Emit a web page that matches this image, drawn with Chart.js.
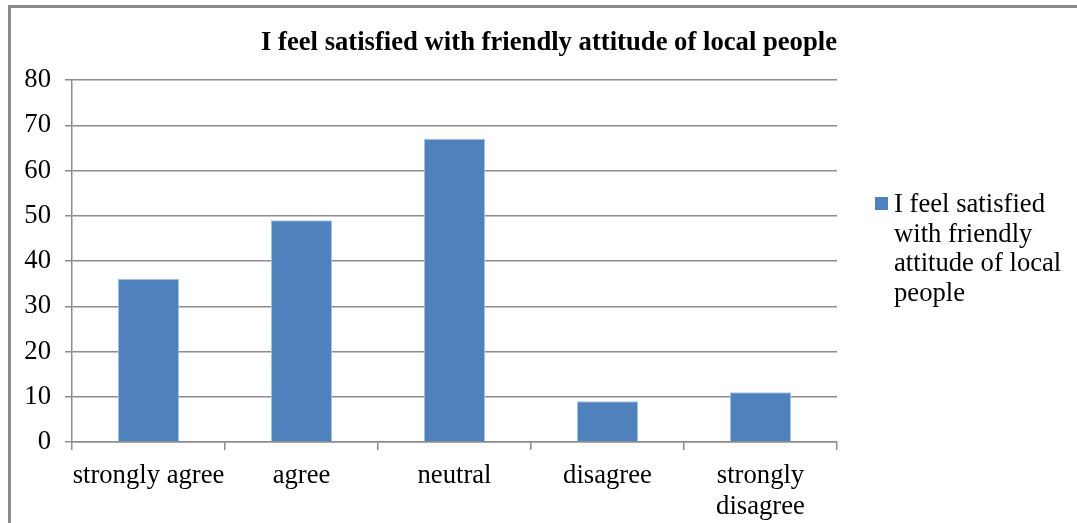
<!DOCTYPE html>
<html>
<head>
<meta charset="utf-8">
<script src="https://cdn.jsdelivr.net/npm/chart.js@4/dist/chart.umd.min.js"></script>
<style>
  html, body { margin: 0; padding: 0; background: #fff; overflow: hidden; width: 1077px; height: 523px; }
  .frame {
    position: absolute; left: 8px; top: 5px;
    width: 1069px; height: 515px;
    border-left: 3px solid #8a8a8a; border-top: 3px solid #8a8a8a;
    background: #fff;
  }
</style>
</head>
<body>
<div class="frame"><canvas id="chart"></canvas></div>
<script>
// Survey responses per answer option
const categories = ['strongly agree', 'agree', 'neutral', 'disagree', ['strongly', 'disagree']];
const responses = [36, 49, 67, 9, 11];
const seriesLabel = 'I feel satisfied with friendly attitude of local people';
const legendLines = ['I feel satisfied', 'with friendly', 'attitude of local', 'people'];
const chartTitle = 'I feel satisfied with friendly attitude of local people';
const yTicks = [0, 10, 20, 30, 40, 50, 60, 70, 80];

const serif = "'Liberation Serif', 'Times New Roman', serif";
const textSize = 26.67;
const gridGray = '#8c8c8c';
const barBlue = '#4f81bd';

// Legend on the right with wrapped text lines
const wrappedLegend = {
  id: 'wrappedLegend',
  afterDraw(chart) {
    const ctx = chart.ctx;
    const area = chart.chartArea;
    const x0 = area.right + 38;
    const y0 = area.top + 117;
    ctx.save();
    ctx.fillStyle = chart.data.datasets[0].backgroundColor;
    ctx.fillRect(x0, y0, 13, 13);
    ctx.fillStyle = '#000';
    ctx.font = textSize + 'px ' + serif;
    ctx.textBaseline = 'alphabetic';
    ctx.textAlign = 'left';
    legendLines.forEach((line, i) => {
      ctx.fillText(line, x0 + 19, y0 + 15 + i * 29.5);
    });
    ctx.restore();
  }
};

new Chart(document.getElementById('chart'), {
  type: 'bar',
  data: {
    labels: categories,
    datasets: [{
      label: seriesLabel,
      data: responses,
      backgroundColor: barBlue,
      borderColor: '#a5bfe0',
      borderWidth: 1,
      barPercentage: 0.4,
      categoryPercentage: 1.0
    }]
  },
  options: {
    responsive: true,
    maintainAspectRatio: false,
    animation: false,
    devicePixelRatio: 1,
    layout: { padding: { left: 0, right: 243, top: 0, bottom: 0 } },
    plugins: {
      legend: { display: false },
      tooltip: { enabled: false },
      title: {
        display: true,
        align: 'end',
        text: chartTitle,
        color: '#000',
        font: { family: serif, size: textSize, weight: 'bold', lineHeight: 1.2 },
        padding: { top: 19, bottom: 21 }
      }
    },
    scales: {
      x: {
        grid: {
          offset: true,
          drawOnChartArea: false,
          drawTicks: true,
          tickLength: 8,
          color: gridGray,
          lineWidth: 1.5
        },
        border: { display: true, color: gridGray, width: 1.5 },
        ticks: {
          color: '#000',
          font: { family: serif, size: textSize, lineHeight: 1.17 },
          padding: 10,
          maxRotation: 0,
          autoSkip: false
        },
        afterFit(scale) { scale.height = 81; }
      },
      y: {
        min: 0,
        max: 80,
        afterBuildTicks(scale) { scale.ticks = yTicks.map(v => ({ value: v })); },
        grid: {
          color: gridGray,
          lineWidth: 1.5,
          drawTicks: true,
          tickLength: 7
        },
        border: { display: true, color: gridGray, width: 1.5 },
        ticks: {
          color: '#000',
          font: { family: serif, size: textSize },
          padding: 14
        },
        afterFit(scale) { scale.width = 61; }
      }
    }
  },
  plugins: [wrappedLegend]
});
</script>
</body>
</html>
